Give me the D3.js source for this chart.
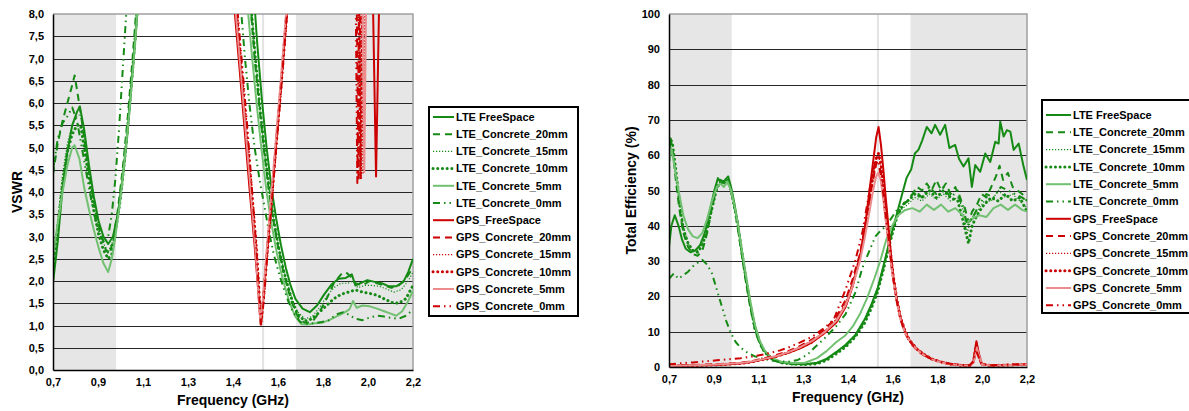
<!DOCTYPE html>
<html>
<head>
<meta charset="utf-8">
<script src="https://cdn.jsdelivr.net/npm/d3@7"></script>
<style>
  body { margin: 0; background: #fff; }
  svg text { font-family: "Liberation Sans", Arial, sans-serif; font-weight: bold; fill: #000; }
</style>
</head>
<body>
<svg id="chart" width="1189" height="411"></svg>
<script>
// ---- legend / series names ----
var seriesNames = ["LTE FreeSpace", "LTE_Concrete_20mm", "LTE_Concrete_15mm", "LTE_Concrete_10mm",
  "LTE_Concrete_5mm", "LTE_Concrete_0mm", "GPS_FreeSpace", "GPS_Concrete_20mm",
  "GPS_Concrete_15mm", "GPS_Concrete_10mm", "GPS_Concrete_5mm", "GPS_Concrete_0mm"];

var xTickLabels = ["0,7", "0,9", "1,1", "1,3", "1,4", "1,6", "1,8", "2,0", "2,2"];
var ltebands = [[0.7, 0.963], [1.712, 2.2]];
var gpsMarker = 1.5754;

// ---- VSWR (GHz, VSWR) ----
var vswrLteFree = [[0.70,1.95],[0.72,2.9],[0.74,4.1],[0.76,4.9],[0.78,5.5],[0.80,5.8],[0.812,5.92],[0.83,5.4],[0.85,4.6],[0.87,3.9],[0.89,3.35],[0.91,3.0],[0.93,2.83],[0.95,3.0],[0.97,3.5],[0.99,4.3],[1.01,5.3],[1.03,6.6],[1.05,7.9],[1.07,9.5],[1.50,9.5],[1.535,8.6],[1.55,7.4],[1.57,6.1],[1.59,5.0],[1.61,4.1],[1.63,3.4],[1.65,2.8],[1.67,2.3],[1.69,1.9],[1.71,1.6],[1.74,1.38],[1.77,1.3],[1.80,1.45],[1.83,1.7],[1.86,1.92],[1.89,2.05],[1.92,2.07],[1.945,2.15],[1.96,1.9],[1.98,1.95],[2.01,2.02],[2.04,1.98],[2.07,1.95],[2.10,1.88],[2.13,1.88],[2.16,1.98],[2.18,2.2],[2.20,2.5]];
var vswrLte20 = [[0.70,4.4],[0.72,5.1],[0.74,5.6],[0.76,6.0],[0.78,6.4],[0.79,6.62],[0.80,6.3],[0.82,5.6],[0.84,4.8],[0.86,4.1],[0.88,3.5],[0.90,3.05],[0.92,2.7],[0.935,2.6],[0.95,2.9],[0.97,3.6],[0.99,4.5],[1.01,5.6],[1.03,6.9],[1.05,8.3],[1.06,9.5],[1.50,9.5],[1.52,8.4],[1.54,7.0],[1.56,5.9],[1.58,4.9],[1.60,4.0],[1.62,3.3],[1.64,2.7],[1.66,2.2],[1.68,1.8],[1.70,1.45],[1.72,1.2],[1.75,1.05],[1.78,1.08],[1.81,1.3],[1.84,1.6],[1.87,1.95],[1.90,2.15],[1.92,2.2],[1.94,2.1],[1.96,1.95],[1.99,1.9],[2.02,2.0],[2.05,1.95],[2.08,1.9],[2.11,1.85],[2.14,1.9],[2.17,2.05],[2.20,2.3]];
var vswrLte15 = [[0.70,2.3],[0.72,3.4],[0.74,4.4],[0.76,5.1],[0.78,5.5],[0.80,5.7],[0.815,5.75],[0.83,5.2],[0.85,4.5],[0.87,3.8],[0.89,3.2],[0.91,2.85],[0.93,2.65],[0.95,2.9],[0.97,3.5],[0.99,4.3],[1.01,5.3],[1.03,6.6],[1.05,8.0],[1.07,9.5],[1.50,9.5],[1.525,8.3],[1.54,7.3],[1.56,6.0],[1.58,4.9],[1.60,4.1],[1.62,3.4],[1.64,2.8],[1.66,2.3],[1.68,1.9],[1.70,1.55],[1.72,1.3],[1.75,1.15],[1.78,1.2],[1.81,1.4],[1.84,1.65],[1.87,1.85],[1.90,1.95],[1.93,1.95],[1.95,2.0],[1.97,1.85],[2.00,1.9],[2.03,1.9],[2.06,1.88],[2.09,1.82],[2.12,1.75],[2.15,1.8],[2.18,2.0],[2.20,2.2]];
var vswrLte10 = [[0.70,2.2],[0.72,3.2],[0.74,4.2],[0.76,4.9],[0.78,5.3],[0.80,5.5],[0.815,5.5],[0.83,5.0],[0.85,4.3],[0.87,3.6],[0.89,3.05],[0.91,2.7],[0.93,2.5],[0.945,2.6],[0.96,3.1],[0.98,3.8],[1.00,4.8],[1.02,6.0],[1.04,7.3],[1.06,8.8],[1.07,9.5],[1.50,9.5],[1.52,8.5],[1.54,7.2],[1.56,6.0],[1.58,5.0],[1.60,4.1],[1.62,3.35],[1.64,2.75],[1.66,2.25],[1.68,1.85],[1.70,1.5],[1.72,1.25],[1.75,1.1],[1.78,1.15],[1.81,1.3],[1.84,1.45],[1.87,1.6],[1.90,1.7],[1.93,1.75],[1.96,1.8],[1.99,1.75],[2.02,1.72],[2.05,1.68],[2.08,1.6],[2.11,1.52],[2.14,1.5],[2.17,1.6],[2.20,1.9]];
var vswrLte5 = [[0.70,2.6],[0.72,3.3],[0.74,4.0],[0.76,4.6],[0.78,5.0],[0.79,5.05],[0.81,4.75],[0.83,4.1],[0.85,3.6],[0.87,3.15],[0.89,2.75],[0.91,2.4],[0.93,2.2],[0.945,2.5],[0.96,3.0],[0.98,3.8],[1.00,4.8],[1.02,5.9],[1.04,7.2],[1.06,8.7],[1.07,9.5],[1.49,9.5],[1.51,8.2],[1.53,7.0],[1.55,5.9],[1.57,4.9],[1.59,4.0],[1.61,3.3],[1.63,2.7],[1.65,2.2],[1.67,1.8],[1.69,1.45],[1.71,1.2],[1.735,1.03],[1.76,1.02],[1.79,1.05],[1.82,1.06],[1.85,1.12],[1.88,1.2],[1.91,1.28],[1.935,1.36],[1.95,1.55],[1.965,1.4],[1.99,1.45],[2.02,1.43],[2.05,1.38],[2.08,1.32],[2.11,1.26],[2.13,1.22],[2.155,1.32],[2.18,1.55],[2.20,1.78]];
var vswrLte0 = [[0.70,4.5],[0.72,5.2],[0.74,5.55],[0.76,5.7],[0.78,5.9],[0.80,5.6],[0.82,5.0],[0.84,4.4],[0.86,3.8],[0.88,3.3],[0.90,3.0],[0.915,2.85],[0.93,3.0],[0.945,3.5],[0.96,4.3],[0.975,5.4],[0.99,6.7],[1.005,8.0],[1.02,9.5],[1.47,9.5],[1.485,8.0],[1.50,7.0],[1.52,5.9],[1.54,5.0],[1.56,4.3],[1.58,3.7],[1.60,3.1],[1.62,2.6],[1.64,2.2],[1.66,1.85],[1.68,1.55],[1.70,1.3],[1.73,1.08],[1.76,1.04],[1.79,1.05],[1.82,1.08],[1.85,1.12],[1.88,1.25],[1.91,1.3],[1.93,1.25],[1.96,1.15],[1.99,1.12],[2.02,1.18],[2.05,1.22],[2.08,1.2],[2.11,1.17],[2.14,1.15],[2.17,1.22],[2.20,1.35]];
var vswrGpsFree = [[1.40,11],[1.458,8.0],[1.48,6.6],[1.50,5.3],[1.52,4.0],[1.54,2.8],[1.555,1.8],[1.565,1.03],[1.575,1.5],[1.59,2.5],[1.61,3.8],[1.63,5.1],[1.65,6.4],[1.674,8.0],[1.70,11],[2.02,11],[2.034,8.0],[2.046,4.35],[2.058,8.0],[2.07,11]];
var vswrGps20 = [[1.40,11],[1.463,8.0],[1.485,6.6],[1.505,5.3],[1.525,4.0],[1.545,2.7],[1.557,1.7],[1.565,1.08],[1.575,1.55],[1.59,2.6],[1.61,3.9],[1.63,5.2],[1.65,6.5],[1.672,8.0],[1.70,11],[1.95,11],[1.966,8.0],[1.973,4.25],[1.98,8.0],[1.995,11]];
var vswrGps15 = [[1.40,11],[1.465,8.0],[1.487,6.6],[1.507,5.3],[1.527,4.0],[1.547,2.7],[1.558,1.7],[1.566,1.05],[1.576,1.6],[1.591,2.6],[1.611,3.9],[1.631,5.2],[1.651,6.5],[1.673,8.0],[1.70,11],[1.97,11],[1.985,8.0],[1.992,4.4],[1.999,8.0],[2.01,11]];
var vswrGps10 = [[1.40,11],[1.466,8.0],[1.488,6.6],[1.508,5.3],[1.528,4.0],[1.548,2.7],[1.559,1.7],[1.567,1.05],[1.577,1.6],[1.592,2.6],[1.612,3.9],[1.632,5.2],[1.652,6.5],[1.674,8.0],[1.70,11],[1.96,11],[1.975,8.0],[1.982,4.3],[1.989,8.0],[2.00,11]];
var vswrGps5 = [[1.40,11],[1.462,8.0],[1.484,6.6],[1.504,5.3],[1.524,4.0],[1.544,2.7],[1.556,1.7],[1.564,1.1],[1.574,1.55],[1.589,2.6],[1.609,3.9],[1.629,5.2],[1.649,6.5],[1.671,8.0],[1.70,11],[1.975,11],[1.99,8.0],[1.997,4.45],[2.004,8.0],[2.015,11]];
var vswrGps0 = [[1.40,11],[1.47,8.0],[1.492,6.6],[1.512,5.3],[1.53,4.0],[1.548,2.7],[1.56,1.6],[1.567,1.02],[1.577,1.5],[1.592,2.5],[1.612,3.8],[1.632,5.1],[1.652,6.4],[1.675,8.0],[1.70,11],[1.95,11],[1.962,8.0],[1.968,4.2],[1.975,8.0],[1.99,11]];

// ---- Total efficiency (GHz, %) ----
var effLteFree = [[0.70,34],[0.71,40],[0.724,43],[0.74,40],[0.755,36],[0.77,33.5],[0.79,32.5],[0.81,33],[0.83,34.5],[0.85,38],[0.87,44],[0.89,50],[0.905,53.5],[0.92,52],[0.935,53],[0.948,54],[0.96,51],[0.975,46],[0.99,40],[1.00,35],[1.02,26],[1.04,18],[1.06,11.5],[1.08,7],[1.10,4.5],[1.13,2.5],[1.17,1.4],[1.22,0.9],[1.27,0.8],[1.32,1.2],[1.36,2.3],[1.40,4.2],[1.44,6.3],[1.48,9.0],[1.52,13.5],[1.55,18],[1.575,22.5],[1.60,29],[1.625,36],[1.655,43.5],[1.675,48.5],[1.695,53.5],[1.715,56],[1.73,60.5],[1.745,61.5],[1.76,64],[1.78,68],[1.80,66.2],[1.815,68.6],[1.836,65.8],[1.857,68.6],[1.875,62],[1.885,62.4],[1.899,62.9],[1.915,59],[1.934,56.8],[1.955,59.1],[1.969,51],[1.983,57.2],[2.004,55.3],[2.025,60.5],[2.046,58.1],[2.067,63.8],[2.081,63.3],[2.088,69.5],[2.102,65.3],[2.116,67.1],[2.13,66.7],[2.144,61.5],[2.165,63.3],[2.186,56.7],[2.20,53]];
var effLte20 = [[0.70,55],[0.705,65],[0.715,62],[0.73,52],[0.745,44],[0.76,38],[0.78,34],[0.80,32],[0.82,31.5],[0.84,33],[0.86,38],[0.88,45],[0.90,51],[0.915,53],[0.93,52.5],[0.945,53.5],[0.96,50],[0.975,45],[1.00,34],[1.02,25],[1.04,17],[1.06,10.5],[1.08,6.5],[1.10,4.2],[1.13,2.2],[1.17,1.2],[1.22,0.8],[1.27,0.8],[1.32,1.1],[1.36,2.2],[1.40,4],[1.44,6],[1.48,8.8],[1.52,13],[1.55,17.5],[1.575,22],[1.60,28.5],[1.625,35.5],[1.655,43],[1.68,46],[1.70,47],[1.72,49],[1.74,51],[1.76,50],[1.78,52],[1.80,50],[1.82,53],[1.84,50],[1.86,52],[1.88,49],[1.90,51],[1.92,47],[1.94,45],[1.955,41],[1.97,44],[1.99,46],[2.01,49],[2.03,48],[2.05,51],[2.07,54],[2.085,57],[2.10,53],[2.12,55],[2.14,51],[2.16,50],[2.18,49],[2.20,47]];
var effLte15 = [[0.70,60],[0.71,62],[0.72,58],[0.74,48],[0.76,40],[0.78,35],[0.80,33],[0.82,33],[0.84,35],[0.86,40],[0.88,46],[0.90,51],[0.915,52.5],[0.93,52],[0.945,53],[0.96,50.5],[0.975,45.5],[0.99,40],[1.00,35],[1.02,26],[1.04,18],[1.06,11],[1.08,7],[1.10,4.4],[1.13,2.4],[1.17,1.3],[1.22,0.9],[1.27,0.8],[1.32,1.1],[1.36,2.2],[1.40,4.1],[1.44,6.2],[1.48,9],[1.52,13.5],[1.55,18],[1.575,22.5],[1.60,29],[1.625,36],[1.655,43],[1.68,45],[1.70,46],[1.73,48],[1.76,47],[1.79,49],[1.82,47.5],[1.85,49],[1.88,47],[1.91,48],[1.93,45],[1.95,38],[1.965,42],[1.99,44],[2.02,47],[2.05,47],[2.08,50],[2.11,48],[2.14,49],[2.17,47],[2.20,45]];
var effLte10 = [[0.70,62],[0.705,65],[0.715,63],[0.73,55],[0.745,46],[0.76,39],[0.78,35],[0.80,33],[0.82,32.5],[0.84,34.5],[0.86,39],[0.88,45],[0.90,50.5],[0.915,52.5],[0.93,52],[0.945,53],[0.96,50],[0.975,45],[0.99,39.5],[1.00,35],[1.02,26],[1.04,18],[1.06,11],[1.08,7],[1.10,4.3],[1.13,2.3],[1.17,1.2],[1.22,0.8],[1.27,0.7],[1.32,0.9],[1.36,1.9],[1.40,3.7],[1.44,5.7],[1.48,8.5],[1.52,12.5],[1.55,17],[1.575,21.5],[1.60,28],[1.625,35],[1.655,42.5],[1.68,46],[1.70,47],[1.73,49],[1.76,48],[1.79,50],[1.82,48],[1.85,50],[1.88,48],[1.91,47],[1.93,42],[1.955,35],[1.97,40],[1.99,43],[2.02,46],[2.05,48],[2.08,47],[2.11,49],[2.14,47],[2.17,48],[2.20,44]];
var effLte5 = [[0.70,58],[0.71,62],[0.72,58],[0.74,50],[0.76,43],[0.78,39],[0.80,37],[0.82,36.5],[0.84,38],[0.86,42],[0.88,47],[0.90,51],[0.915,52],[0.93,51],[0.945,52.5],[0.96,50],[0.975,45.5],[0.99,40],[1.00,35.5],[1.02,27],[1.04,19],[1.06,12],[1.08,7.5],[1.10,4.8],[1.13,2.6],[1.17,1.5],[1.22,1.1],[1.27,1.2],[1.32,2.5],[1.36,4.5],[1.40,7],[1.44,9],[1.47,11.5],[1.50,15],[1.53,19.5],[1.56,25],[1.585,30],[1.61,36],[1.635,40],[1.66,43],[1.69,44.5],[1.72,45],[1.75,44],[1.78,46],[1.81,44.5],[1.84,46],[1.87,44],[1.90,45],[1.93,43],[1.95,41],[1.97,42],[2.00,43],[2.03,42.5],[2.06,45],[2.09,46],[2.12,44.5],[2.15,46],[2.18,44.5],[2.20,44]];
var effLte0 = [[0.70,25],[0.72,26.5],[0.74,25],[0.76,26],[0.78,27],[0.80,28.5],[0.82,29.5],[0.84,30.3],[0.86,29],[0.88,26.5],[0.90,22],[0.92,17.5],[0.94,13],[0.96,9.5],[0.98,7],[1.00,5.5],[1.03,4],[1.06,3],[1.10,2.2],[1.15,1.6],[1.20,1.5],[1.24,2],[1.28,3.5],[1.31,5.5],[1.35,8],[1.40,11.5],[1.44,15],[1.48,21],[1.51,28],[1.54,33],[1.565,37],[1.585,38.5],[1.61,40],[1.64,43],[1.67,46],[1.70,47],[1.73,50],[1.76,48],[1.79,51],[1.82,49],[1.85,51],[1.88,48],[1.91,50],[1.93,46],[1.95,40],[1.97,42],[2.00,46],[2.03,49],[2.06,48],[2.09,51],[2.12,50],[2.15,49],[2.18,48],[2.20,47]];
var effGpsFree = [[0.70,0.3],[0.80,0.4],[0.90,0.6],[1.00,1.0],[1.05,1.5],[1.10,2.2],[1.15,3.0],[1.20,4.0],[1.25,5.3],[1.30,7.0],[1.35,9.5],[1.40,12.5],[1.44,17],[1.47,23],[1.50,31],[1.52,39],[1.54,50],[1.555,58],[1.568,65],[1.578,68],[1.588,63],[1.598,56],[1.608,48],[1.619,40],[1.63,32],[1.64,25.5],[1.655,19],[1.67,14],[1.69,10],[1.71,7.4],[1.74,5],[1.77,3.5],[1.80,2.3],[1.84,1.4],[1.88,0.8],[1.92,0.5],[1.96,0.4],[1.975,1.5],[1.988,7.3],[1.998,4],[2.01,0.8],[2.05,0.4],[2.10,0.5],[2.15,0.6],[2.20,0.7]];
var effGps20 = [[0.70,0.4],[0.80,0.6],[0.90,0.8],[1.00,1.2],[1.05,1.7],[1.10,2.5],[1.15,3.4],[1.20,4.5],[1.25,6.0],[1.30,7.8],[1.35,10.5],[1.40,14],[1.44,19],[1.47,25],[1.50,32],[1.52,39],[1.54,47],[1.555,53],[1.57,58],[1.58,57],[1.59,53],[1.60,47],[1.61,41],[1.62,35],[1.635,27],[1.65,20],[1.67,13.5],[1.69,9.5],[1.71,7],[1.74,4.6],[1.77,3.2],[1.80,2.2],[1.84,1.4],[1.88,0.9],[1.92,0.6],[1.96,0.5],[1.975,1.5],[1.986,5.5],[1.996,3],[2.01,0.8],[2.05,0.5],[2.10,0.6],[2.15,0.7],[2.20,0.8]];
var effGps15 = [[0.70,0.3],[0.80,0.5],[0.90,0.7],[1.00,1.1],[1.05,1.6],[1.10,2.3],[1.15,3.2],[1.20,4.3],[1.25,5.7],[1.30,7.5],[1.35,10],[1.40,13.5],[1.44,18],[1.47,24],[1.50,31.5],[1.52,39],[1.54,48],[1.555,54.5],[1.568,59],[1.577,60.5],[1.587,57],[1.597,51],[1.607,44],[1.618,37.5],[1.63,30.5],[1.64,25],[1.655,18.5],[1.67,13.5],[1.69,9.6],[1.71,7.2],[1.74,4.8],[1.77,3.3],[1.80,2.2],[1.84,1.4],[1.88,0.8],[1.92,0.5],[1.96,0.4],[1.977,1.4],[1.989,6],[1.999,3],[2.01,0.7],[2.05,0.4],[2.10,0.5],[2.15,0.6],[2.20,0.7]];
var effGps10 = [[0.70,0.3],[0.80,0.4],[0.90,0.6],[1.00,1.0],[1.05,1.5],[1.10,2.2],[1.15,3.0],[1.20,4.1],[1.25,5.5],[1.30,7.2],[1.35,9.7],[1.40,13],[1.44,17.5],[1.47,23.5],[1.50,31],[1.52,38.5],[1.54,47.5],[1.555,54],[1.568,59],[1.578,60.5],[1.588,57.5],[1.598,51.5],[1.608,45],[1.619,38],[1.63,31],[1.64,25.5],[1.655,19],[1.67,14],[1.69,10],[1.71,7.4],[1.74,5],[1.77,3.5],[1.80,2.3],[1.84,1.4],[1.88,0.8],[1.92,0.5],[1.96,0.4],[1.976,1.5],[1.988,6.5],[1.998,3.5],[2.01,0.8],[2.05,0.4],[2.10,0.5],[2.15,0.6],[2.20,0.7]];
var effGps5 = [[0.70,0.3],[0.80,0.5],[0.90,0.7],[1.00,1.1],[1.05,1.6],[1.10,2.3],[1.15,3.1],[1.20,4.2],[1.25,5.6],[1.30,7.4],[1.35,9.8],[1.40,13],[1.44,17.5],[1.47,23],[1.50,30],[1.52,36.5],[1.54,44],[1.555,50],[1.568,54],[1.577,55],[1.587,53],[1.597,48],[1.607,42],[1.618,36],[1.63,29.5],[1.64,24.5],[1.655,18.5],[1.67,13.5],[1.69,9.6],[1.71,7.2],[1.74,4.8],[1.77,3.3],[1.80,2.2],[1.84,1.3],[1.88,0.8],[1.92,0.5],[1.96,0.4],[1.977,1.3],[1.99,5.5],[2.0,3],[2.012,0.7],[2.05,0.4],[2.10,0.5],[2.15,0.6],[2.20,0.7]];
var effGps0 = [[0.70,0.8],[0.80,1.3],[0.90,1.9],[1.00,2.5],[1.05,3.0],[1.10,3.6],[1.165,4.7],[1.20,5.5],[1.25,7],[1.30,8.6],[1.35,11],[1.39,13.4],[1.44,22],[1.48,30],[1.51,38],[1.53,46],[1.55,54],[1.568,59],[1.578,58],[1.588,55],[1.598,49],[1.608,43],[1.619,37],[1.63,30.5],[1.64,25],[1.655,18.5],[1.67,13.5],[1.69,9.6],[1.71,7.2],[1.74,4.8],[1.77,3.3],[1.80,2.2],[1.84,1.4],[1.88,0.9],[1.92,0.6],[1.96,0.5],[1.975,1.5],[1.986,5],[1.996,3],[2.01,0.8],[2.05,0.5],[2.10,0.6],[2.15,0.7],[2.20,0.8]];

var vswrSeries = [vswrLteFree, vswrLte20, vswrLte15, vswrLte10, vswrLte5, vswrLte0,
  vswrGpsFree, vswrGps20, vswrGps15, vswrGps10, vswrGps5, vswrGps0];
var effSeries = [effLteFree, effLte20, effLte15, effLte10, effLte5, effLte0,
  effGpsFree, effGps20, effGps15, effGps10, effGps5, effGps0];

// line styles, same order as seriesNames
var dkGreen = "#158a15", ltGreen = "#72c072", dkRed = "#cc0000", ltRed = "#ec8c8c";
var styles = [
  { color: dkGreen, dash: null, w: 2 },
  { color: dkGreen, dash: "7,5", w: 2 },
  { color: dkGreen, dash: "1.2,1.8", w: 1.2 },
  { color: dkGreen, dash: "0.1,4.6", w: 3, cap: "round" },
  { color: ltGreen, dash: null, w: 2 },
  { color: dkGreen, dash: "7,4,1.5,4,1.5,4", w: 2 },
  { color: dkRed, dash: null, w: 2 },
  { color: dkRed, dash: "7,5", w: 2 },
  { color: dkRed, dash: "1.2,1.8", w: 1.2 },
  { color: dkRed, dash: "0.1,4.6", w: 3, cap: "round" },
  { color: ltRed, dash: null, w: 2 },
  { color: dkRed, dash: "7,4,1.5,4,1.5,4", w: 2 }
];

var svg = d3.select("#chart");

function styleLine(sel, s) {
  sel.attr("fill", "none")
    .attr("stroke", s.color)
    .attr("stroke-width", s.w)
    .attr("stroke-dasharray", s.dash)
    .attr("stroke-linecap", s.cap || "butt")
    .attr("stroke-linejoin", "round");
}

function drawChart(cfg) {
  var x = d3.scaleLinear().domain([0.7, 2.2]).range([cfg.left, cfg.right]);
  var y = d3.scaleLinear().domain(cfg.yDomain).range([cfg.bottom, cfg.top]);
  var g = svg.append("g");

  // grey LTE bands + GPS marker
  g.selectAll("rect.band").data(ltebands).enter().append("rect")
    .attr("x", function (d) { return x(d[0]); })
    .attr("y", cfg.top)
    .attr("width", function (d) { return x(d[1]) - x(d[0]); })
    .attr("height", cfg.bottom - cfg.top)
    .attr("fill", "#e6e6e6");
  g.append("line")
    .attr("x1", x(gpsMarker)).attr("x2", x(gpsMarker))
    .attr("y1", cfg.top).attr("y2", cfg.bottom)
    .attr("stroke", "#e3e3e3").attr("stroke-width", 2);

  // horizontal gridlines
  g.selectAll("line.grid").data(cfg.yTicks.slice(1, -1)).enter().append("line")
    .attr("x1", cfg.left).attr("x2", cfg.right)
    .attr("y1", function (d) { return Math.round(y(d)) + 0.5; })
    .attr("y2", function (d) { return Math.round(y(d)) + 0.5; })
    .attr("stroke", "#262626").attr("stroke-width", 1.2);

  // top / right border
  g.append("path")
    .attr("d", "M" + cfg.left + "," + cfg.top + "H" + cfg.right + "V" + cfg.bottom)
    .attr("fill", "none").attr("stroke", "#a0a0a0").attr("stroke-width", 1.5);

  // curves
  var clipId = "clip" + cfg.id;
  svg.append("clipPath").attr("id", clipId).append("rect")
    .attr("x", cfg.left).attr("y", cfg.top)
    .attr("width", cfg.right - cfg.left).attr("height", cfg.bottom - cfg.top);
  var line = d3.line()
    .x(function (d) { return x(d[0]); })
    .y(function (d) { return y(d[1]); });
  var lines = g.append("g").attr("clip-path", "url(#" + clipId + ")");
  cfg.series.forEach(function (data, i) {
    lines.append("path").attr("d", line(data)).call(styleLine, styles[i]);
  });

  // axes
  var yAxis = g.append("g")
    .attr("transform", "translate(" + cfg.left + ",0)")
    .call(d3.axisLeft(y).tickValues(cfg.yTicks).tickSize(0).tickPadding(9).tickFormat(cfg.yFormat));
  var xTickVals = xTickLabels.map(function (d, i) { return 0.7 + i * 1.5 / (xTickLabels.length - 1); });
  var xAxis = g.append("g")
    .attr("transform", "translate(0," + cfg.bottom + ")")
    .call(d3.axisBottom(x).tickValues(xTickVals).tickSize(0).tickPadding(8)
      .tickFormat(function (d, i) { return xTickLabels[i]; }));
  [yAxis, xAxis].forEach(function (a) {
    a.select(".domain").attr("stroke", "#000").attr("stroke-width", 1.5);
    a.selectAll("text").style("font-size", "11px").style("font-family", "\"Liberation Sans\", Arial, sans-serif");
  });

  // axis titles
  g.append("text")
    .attr("x", (cfg.left + cfg.right) / 2).attr("y", cfg.bottom + 35)
    .attr("text-anchor", "middle").style("font-size", "14px")
    .text("Frequency (GHz)");
  g.append("text")
    .attr("transform", "translate(" + cfg.yTitleX + "," + ((cfg.top + cfg.bottom) / 2) + ") rotate(-90)")
    .attr("text-anchor", "middle").attr("dy", "0.35em").style("font-size", "14px")
    .text(cfg.yTitle);

  // legend
  var lg = svg.append("g");
  lg.append("rect")
    .attr("x", cfg.legX).attr("y", cfg.legY)
    .attr("width", cfg.legW).attr("height", cfg.legH)
    .attr("fill", "#fff").attr("stroke", "#000").attr("stroke-width", 2);
  seriesNames.forEach(function (name, i) {
    var yy = cfg.legY + cfg.legRow0 + i * cfg.legStep;
    lg.append("line")
      .attr("x1", cfg.legX + 4).attr("x2", cfg.legX + 4 + cfg.legLine)
      .attr("y1", yy).attr("y2", yy)
      .call(styleLine, styles[i]);
    lg.append("text")
      .attr("x", cfg.legX + 6 + cfg.legLine).attr("y", yy).attr("dy", "0.35em")
      .style("font-size", "11px")
      .text(name);
  });
}

var fmtComma = function (d) { return d3.format(".1f")(d).replace(".", ","); };

drawChart({
  id: "vswr", left: 53, right: 413, top: 14, bottom: 370,
  yDomain: [0, 8], yTicks: d3.range(0, 8.01, 0.5), yFormat: fmtComma,
  yTitle: "VSWR", yTitleX: 17, series: vswrSeries,
  legX: 429, legY: 107, legW: 149, legH: 209, legRow0: 10, legStep: 17.2, legLine: 21
});
drawChart({
  id: "eff", left: 669, right: 1027, top: 14, bottom: 367,
  yDomain: [0, 100], yTicks: d3.range(0, 101, 10), yFormat: d3.format("d"),
  yTitle: "Total Efficiency (%)", yTitleX: 631, series: effSeries,
  legX: 1042, legY: 100, legW: 160, legH: 213, legRow0: 15, legStep: 17.3, legLine: 25
});
</script>
</body>
</html>
